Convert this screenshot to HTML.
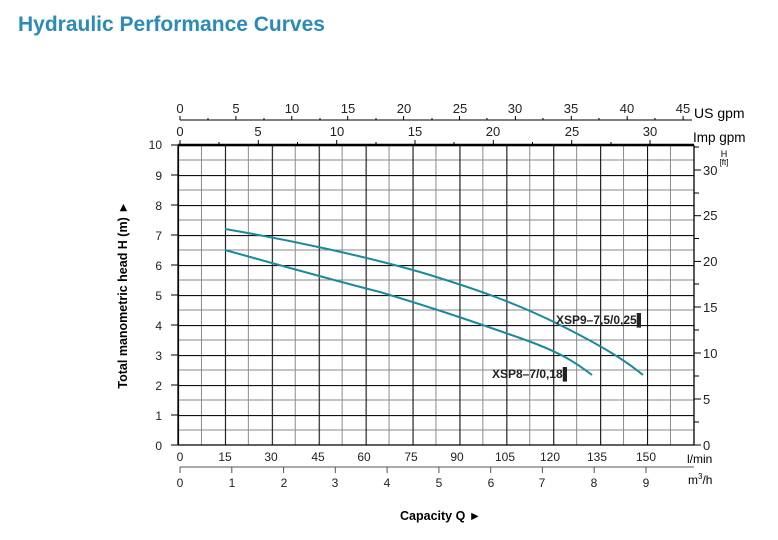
<!DOCTYPE html>
<html><head><meta charset="utf-8"><style>
body{margin:0;background:#fff;width:778px;height:540px;overflow:hidden}
svg{display:block;font-family:"Liberation Sans",Arial,sans-serif}
</style></head><body>
<svg width="778" height="540" viewBox="0 0 778 540">
<defs>
<pattern id="g" x="178" y="145" width="46.9" height="30" patternUnits="userSpaceOnUse">
<line x1="23.45" y1="0" x2="23.45" y2="30" stroke="#8a8a8a" stroke-width="1"/>
<line x1="0" y1="15" x2="46.9" y2="15" stroke="#8a8a8a" stroke-width="1"/>
<line x1="0.5" y1="0" x2="0.5" y2="30" stroke="#111" stroke-width="1.2"/>
<line x1="0" y1="0.5" x2="46.9" y2="0.5" stroke="#111" stroke-width="1.2"/>
</pattern>
</defs>
<text x="18" y="31" font-size="21" font-weight="bold" fill="#2a8ab8">Hydraulic Performance Curves</text>
<rect x="178" y="145" width="516" height="300" fill="url(#g)"/>
<line x1="178" y1="145" x2="694" y2="145" stroke="#000" stroke-width="2.5"/>
<line x1="178" y1="445" x2="694" y2="445" stroke="#000" stroke-width="1.3"/>
<line x1="178" y1="145" x2="178" y2="445" stroke="#000" stroke-width="1.3"/>
<line x1="694" y1="145" x2="694" y2="445" stroke="#000" stroke-width="1.3"/>
<g font-size="12" text-anchor="end" fill="#222">
<text x="162" y="149">10</text><text x="162" y="180">9</text><text x="162" y="210">8</text><text x="162" y="240">7</text><text x="162" y="270">6</text><text x="162" y="300">5</text><text x="162" y="330">4</text><text x="162" y="360">3</text><text x="162" y="390">2</text><text x="162" y="420">1</text><text x="162" y="450">0</text>
</g>
<g stroke="#000"><line x1="171" y1="145" x2="178" y2="145"/><line x1="171" y1="175" x2="178" y2="175"/><line x1="171" y1="205" x2="178" y2="205"/><line x1="171" y1="235" x2="178" y2="235"/><line x1="171" y1="265" x2="178" y2="265"/><line x1="171" y1="295" x2="178" y2="295"/><line x1="171" y1="325" x2="178" y2="325"/><line x1="171" y1="355" x2="178" y2="355"/><line x1="171" y1="385" x2="178" y2="385"/><line x1="171" y1="415" x2="178" y2="415"/><line x1="171" y1="445" x2="178" y2="445"/></g>
<text transform="translate(127,295) rotate(-90)" font-size="12.5" font-weight="bold" text-anchor="middle">Total manometric head H (m)  ►</text>
<g stroke="#000"><line x1="694" y1="170" x2="701" y2="170"/><line x1="694" y1="215.7" x2="701" y2="215.7"/><line x1="694" y1="261.4" x2="701" y2="261.4"/><line x1="694" y1="307" x2="701" y2="307"/><line x1="694" y1="353" x2="701" y2="353"/><line x1="694" y1="399" x2="701" y2="399"/><line x1="694" y1="445" x2="701" y2="445"/>
<line x1="694" y1="147" x2="699" y2="147"/><line x1="694" y1="193" x2="699" y2="193"/><line x1="694" y1="238.5" x2="699" y2="238.5"/><line x1="694" y1="284" x2="699" y2="284"/><line x1="694" y1="330" x2="699" y2="330"/><line x1="694" y1="376" x2="699" y2="376"/><line x1="694" y1="422" x2="699" y2="422"/></g>
<g font-size="13" fill="#222"><text x="703" y="175">30</text><text x="703" y="220">25</text><text x="703" y="266">20</text><text x="703" y="312">15</text><text x="703" y="358">10</text><text x="703" y="404">5</text><text x="703" y="450">0</text></g>
<text x="724" y="157" font-size="9" text-anchor="middle">H</text><text x="724" y="165" font-size="8" text-anchor="middle">[ft]</text>
<line x1="180" y1="120" x2="692" y2="120" stroke="#000"/>
<g stroke="#000"><line x1="180" y1="116" x2="180" y2="120"/><line x1="235.9" y1="116" x2="235.9" y2="120"/><line x1="291.8" y1="116" x2="291.8" y2="120"/><line x1="347.7" y1="116" x2="347.7" y2="120"/><line x1="403.6" y1="116" x2="403.6" y2="120"/><line x1="459.5" y1="116" x2="459.5" y2="120"/><line x1="515.4" y1="116" x2="515.4" y2="120"/><line x1="571.3" y1="116" x2="571.3" y2="120"/><line x1="627.2" y1="116" x2="627.2" y2="120"/><line x1="683.1" y1="116" x2="683.1" y2="120"/>
<line x1="208" y1="118" x2="208" y2="120"/><line x1="264" y1="118" x2="264" y2="120"/><line x1="320" y1="118" x2="320" y2="120"/><line x1="376" y1="118" x2="376" y2="120"/><line x1="432" y1="118" x2="432" y2="120"/><line x1="487" y1="118" x2="487" y2="120"/><line x1="543" y1="118" x2="543" y2="120"/><line x1="599" y1="118" x2="599" y2="120"/><line x1="655" y1="118" x2="655" y2="120"/></g>
<g font-size="13" text-anchor="middle" fill="#222"><text x="180" y="113">0</text><text x="236" y="113">5</text><text x="292" y="113">10</text><text x="348" y="113">15</text><text x="404" y="113">20</text><text x="460" y="113">25</text><text x="515" y="113">30</text><text x="571" y="113">35</text><text x="627" y="113">40</text><text x="683" y="113">45</text></g>
<text x="694" y="118" font-size="14">US gpm</text>
<g stroke="#000"><line x1="180" y1="140" x2="180" y2="145"/><line x1="258.3" y1="140" x2="258.3" y2="145"/><line x1="336.7" y1="140" x2="336.7" y2="145"/><line x1="415" y1="140" x2="415" y2="145"/><line x1="493.3" y1="140" x2="493.3" y2="145"/><line x1="571.7" y1="140" x2="571.7" y2="145"/><line x1="650" y1="140" x2="650" y2="145"/>
<line x1="219" y1="142" x2="219" y2="145"/><line x1="297.5" y1="142" x2="297.5" y2="145"/><line x1="376" y1="142" x2="376" y2="145"/><line x1="454" y1="142" x2="454" y2="145"/><line x1="532.5" y1="142" x2="532.5" y2="145"/><line x1="611" y1="142" x2="611" y2="145"/></g>
<g font-size="13" text-anchor="middle" fill="#222"><text x="180" y="136">0</text><text x="258" y="136">5</text><text x="337" y="136">10</text><text x="415" y="136">15</text><text x="493" y="136">20</text><text x="572" y="136">25</text><text x="650" y="136">30</text></g>
<text x="693" y="142" font-size="13.5">Imp gpm</text>
<g font-size="12" text-anchor="middle" fill="#222"><text x="180" y="461">0</text><text x="225" y="461">15</text><text x="271" y="461">30</text><text x="318" y="461">45</text><text x="364" y="461">60</text><text x="411" y="461">75</text><text x="457" y="461">90</text><text x="505" y="461">105</text><text x="550" y="461">120</text><text x="597" y="461">135</text><text x="646" y="461">150</text></g>
<text x="687" y="463" font-size="12">l/min</text>
<line x1="180" y1="467" x2="694" y2="467" stroke="#555"/>
<g stroke="#555"><line x1="180" y1="467" x2="180" y2="473"/><line x1="231.8" y1="467" x2="231.8" y2="473"/><line x1="283.6" y1="467" x2="283.6" y2="473"/><line x1="335.3" y1="467" x2="335.3" y2="473"/><line x1="387.1" y1="467" x2="387.1" y2="473"/><line x1="438.9" y1="467" x2="438.9" y2="473"/><line x1="490.7" y1="467" x2="490.7" y2="473"/><line x1="542.4" y1="467" x2="542.4" y2="473"/><line x1="594.2" y1="467" x2="594.2" y2="473"/><line x1="646" y1="467" x2="646" y2="473"/></g>
<g font-size="12" text-anchor="middle" fill="#222"><text x="180" y="487">0</text><text x="232" y="487">1</text><text x="284" y="487">2</text><text x="335" y="487">3</text><text x="387" y="487">4</text><text x="439" y="487">5</text><text x="491" y="487">6</text><text x="542" y="487">7</text><text x="594" y="487">8</text><text x="646" y="487">9</text></g>
<text x="688" y="484" font-size="12">m<tspan font-size="8" dy="-5">3</tspan><tspan dy="5">/h</tspan></text>
<text x="400" y="520" font-size="12.5" font-weight="bold">Capacity Q   ►</text>
<path d="M225,229 C290,240 364,256 420,272 C480,290 520,305 560,325 C600,345 625,360 643,375" fill="none" stroke="#1b8a9a" stroke-width="2"/>
<path d="M225,250 C290,268 340,282 380,292 C440,310 480,324 520,338 C560,352 575,362 592,375" fill="none" stroke="#1b8a9a" stroke-width="2"/>
<text x="556" y="324" font-size="12" font-weight="bold" fill="#222">XSP9–7,5/0,25▌</text>
<text x="492" y="378" font-size="12" font-weight="bold" fill="#222">XSP8–7/0,18▌</text>
</svg>
</body></html>
